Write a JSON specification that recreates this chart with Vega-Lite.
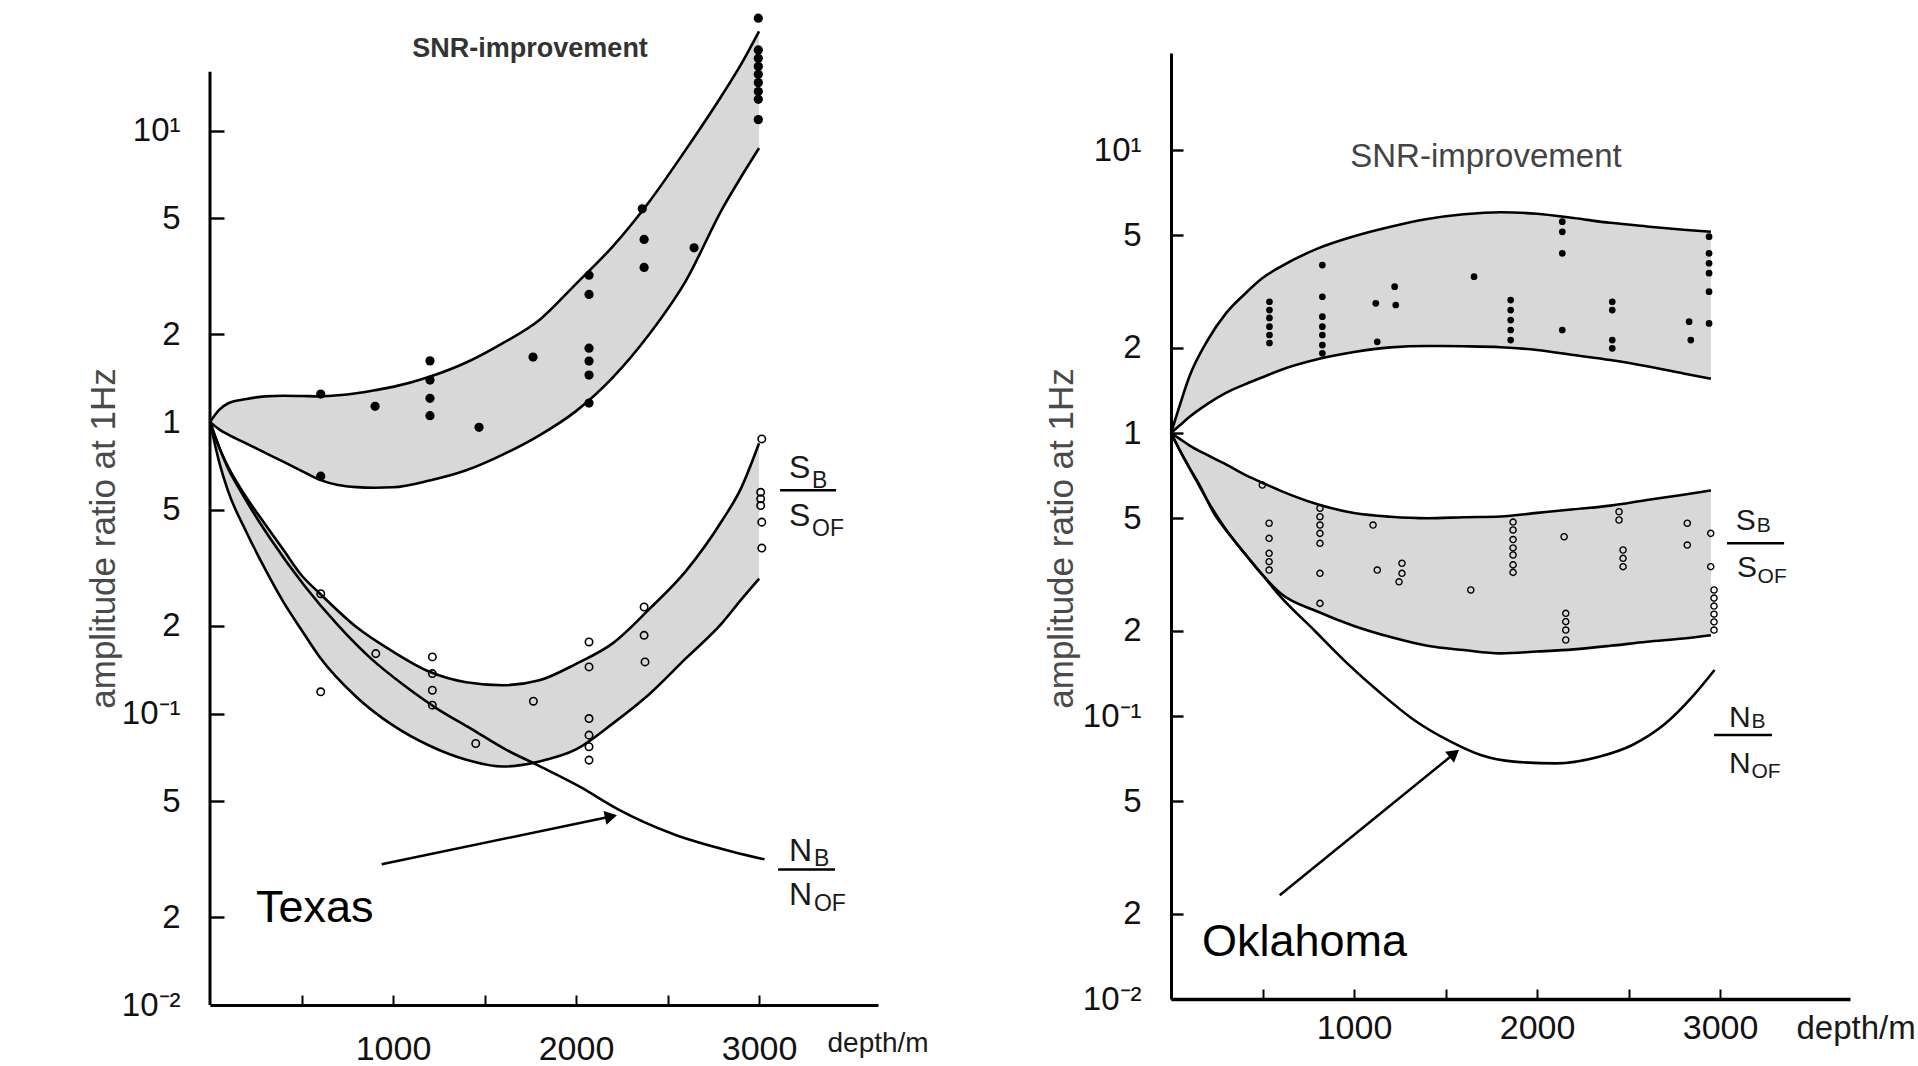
{
  "$schema": "https://vega.github.io/schema/vega-lite/v6.json",
  "background": "white",
  "padding": {"left": 86, "top": 13, "right": 0, "bottom": 0},
  "config": {"view": {"stroke": null}, "font": "Liberation Sans"},
  "bounds": "flush",
  "spacing": 293,
  "datasets": {
    "Lbands": [
      {"band": "snr", "d": 0, "lo": 1, "hi": 1},
      {"band": "snr", "d": 50, "lo": 0.944, "hi": 1.10},
      {"band": "snr", "d": 100, "lo": 0.905, "hi": 1.16},
      {"band": "snr", "d": 200, "lo": 0.843, "hi": 1.20},
      {"band": "snr", "d": 300, "lo": 0.785, "hi": 1.225},
      {"band": "snr", "d": 400, "lo": 0.731, "hi": 1.23},
      {"band": "snr", "d": 500, "lo": 0.68, "hi": 1.228},
      {"band": "snr", "d": 600, "lo": 0.633, "hi": 1.225},
      {"band": "snr", "d": 700, "lo": 0.608, "hi": 1.235},
      {"band": "snr", "d": 800, "lo": 0.598, "hi": 1.255},
      {"band": "snr", "d": 900, "lo": 0.595, "hi": 1.285},
      {"band": "snr", "d": 1000, "lo": 0.597, "hi": 1.32},
      {"band": "snr", "d": 1200, "lo": 0.63, "hi": 1.43},
      {"band": "snr", "d": 1400, "lo": 0.683, "hi": 1.60},
      {"band": "snr", "d": 1600, "lo": 0.773, "hi": 1.865},
      {"band": "snr", "d": 1800, "lo": 0.90, "hi": 2.24},
      {"band": "snr", "d": 2000, "lo": 1.09, "hi": 2.98},
      {"band": "snr", "d": 2200, "lo": 1.42, "hi": 4.0},
      {"band": "snr", "d": 2400, "lo": 2.0, "hi": 5.7},
      {"band": "snr", "d": 2600, "lo": 3.05, "hi": 8.6},
      {"band": "snr", "d": 2800, "lo": 5.4, "hi": 13.3},
      {"band": "snr", "d": 2900, "lo": 6.9, "hi": 16.8},
      {"band": "snr", "d": 3000, "lo": 8.7, "hi": 21.9},
      {"band": "s", "d": 0, "lo": 1, "hi": 1},
      {"band": "s", "d": 50, "lo": 0.73, "hi": 0.82},
      {"band": "s", "d": 100, "lo": 0.577, "hi": 0.70},
      {"band": "s", "d": 200, "lo": 0.418, "hi": 0.55},
      {"band": "s", "d": 300, "lo": 0.314, "hi": 0.447},
      {"band": "s", "d": 400, "lo": 0.242, "hi": 0.365},
      {"band": "s", "d": 500, "lo": 0.1935, "hi": 0.298},
      {"band": "s", "d": 600, "lo": 0.156, "hi": 0.258},
      {"band": "s", "d": 800, "lo": 0.114, "hi": 0.198},
      {"band": "s", "d": 1000, "lo": 0.091, "hi": 0.163},
      {"band": "s", "d": 1200, "lo": 0.0775, "hi": 0.139},
      {"band": "s", "d": 1400, "lo": 0.0694, "hi": 0.128},
      {"band": "s", "d": 1600, "lo": 0.0658, "hi": 0.125},
      {"band": "s", "d": 1800, "lo": 0.0685, "hi": 0.130},
      {"band": "s", "d": 2000, "lo": 0.0753, "hi": 0.148},
      {"band": "s", "d": 2200, "lo": 0.0923, "hi": 0.174},
      {"band": "s", "d": 2400, "lo": 0.1164, "hi": 0.228},
      {"band": "s", "d": 2600, "lo": 0.1545, "hi": 0.308},
      {"band": "s", "d": 2800, "lo": 0.205, "hi": 0.461},
      {"band": "s", "d": 2900, "lo": 0.245, "hi": 0.59},
      {"band": "s", "d": 3000, "lo": 0.29, "hi": 0.846}
    ],
    "Lnoise": [
      {"d": 0, "v": 1}, {"d": 50, "v": 0.82}, {"d": 100, "v": 0.69}, {"d": 150, "v": 0.605},
      {"d": 330, "v": 0.3975}, {"d": 515, "v": 0.275}, {"d": 700, "v": 0.2006}, {"d": 880, "v": 0.1543},
      {"d": 1060, "v": 0.125}, {"d": 1240, "v": 0.104}, {"d": 1425, "v": 0.0888}, {"d": 1605, "v": 0.0759},
      {"d": 1790, "v": 0.0665}, {"d": 2025, "v": 0.0559}, {"d": 2225, "v": 0.0471}, {"d": 2530, "v": 0.0386},
      {"d": 2860, "v": 0.0335}, {"d": 3030, "v": 0.0316}
    ],
    "Lfilled": [
      {"d": 605, "v": 1.247}, {"d": 902, "v": 1.132}, {"d": 1202, "v": 1.621}, {"d": 1202, "v": 1.393},
      {"d": 1202, "v": 1.206}, {"d": 1202, "v": 1.051}, {"d": 1470, "v": 0.959}, {"d": 605, "v": 0.652},
      {"d": 1765, "v": 1.67}, {"d": 2071, "v": 3.19}, {"d": 2071, "v": 2.74}, {"d": 2071, "v": 1.792},
      {"d": 2071, "v": 1.618}, {"d": 2071, "v": 1.449}, {"d": 2071, "v": 1.162}, {"d": 2362, "v": 5.39},
      {"d": 2372, "v": 4.23}, {"d": 2372, "v": 3.39}, {"d": 2645, "v": 3.96}, {"d": 2996, "v": 24.3},
      {"d": 2996, "v": 18.9}, {"d": 2996, "v": 17.7}, {"d": 2996, "v": 16.6}, {"d": 2996, "v": 15.6},
      {"d": 2996, "v": 14.6}, {"d": 2996, "v": 13.6}, {"d": 2996, "v": 12.8}, {"d": 2996, "v": 10.9}
    ],
    "Lopen": [
      {"d": 605, "v": 0.2576}, {"d": 906, "v": 0.1605}, {"d": 605, "v": 0.1187}, {"d": 1215, "v": 0.1564},
      {"d": 1215, "v": 0.1371}, {"d": 1215, "v": 0.1202}, {"d": 1215, "v": 0.1068}, {"d": 1452, "v": 0.0789},
      {"d": 1767, "v": 0.1102}, {"d": 3015, "v": 0.875}, {"d": 3009, "v": 0.574}, {"d": 3009, "v": 0.545},
      {"d": 3009, "v": 0.517}, {"d": 3015, "v": 0.4535}, {"d": 3015, "v": 0.3694}, {"d": 2372, "v": 0.232},
      {"d": 2372, "v": 0.1854}, {"d": 2377, "v": 0.1503}, {"d": 2071, "v": 0.176}, {"d": 2071, "v": 0.1445},
      {"d": 2071, "v": 0.0961}, {"d": 2071, "v": 0.0843}, {"d": 2071, "v": 0.0769}, {"d": 2071, "v": 0.0692}
    ],
    "Laxis": [{"d": 0, "v": 0.01, "v2": 15.9}],
    "Lbig": [
      {"d": 3164, "v": 0.6435, "t": "S"}, {"d": 3164, "v": 0.4391, "t": "S"},
      {"d": 3164, "v": 0.03131, "t": "N"}, {"d": 3164, "v": 0.02195, "t": "N"}
    ],
    "Lsub": [
      {"d": 3290, "v": 0.5946, "t": "B"}, {"d": 3290, "v": 0.4057, "t": "OF"},
      {"d": 3300, "v": 0.0301, "t": "B"}, {"d": 3300, "v": 0.0210, "t": "OF"}
    ],
    "Lbars": [
      {"d": 3115, "d2": 3421, "v": 0.5834}, {"d": 3104, "d2": 3415, "v": 0.02915}
    ],
    "Larrow": [{"d": 938, "v": 0.0304, "d2": 2191, "v2": 0.0443}],
    "Lhead": [{"d": 2191, "v": 0.0443}],
    "Llabel": [{"d": 251, "v": 0.01934, "t": "Texas"}],
    "Ltitle": [{"d": 1749, "v": 19.1, "t": "SNR-improvement"}],
    "Rbands": [
      {"band": "snr", "d": 0, "lo": 1, "hi": 1},
      {"band": "snr", "d": 50, "lo": 1.067, "hi": 1.266},
      {"band": "snr", "d": 100, "lo": 1.139, "hi": 1.58},
      {"band": "snr", "d": 200, "lo": 1.268, "hi": 2.127},
      {"band": "snr", "d": 300, "lo": 1.386, "hi": 2.647},
      {"band": "snr", "d": 400, "lo": 1.483, "hi": 3.087},
      {"band": "snr", "d": 500, "lo": 1.574, "hi": 3.53},
      {"band": "snr", "d": 600, "lo": 1.671, "hi": 3.873},
      {"band": "snr", "d": 800, "lo": 1.822, "hi": 4.483},
      {"band": "snr", "d": 1000, "lo": 1.933, "hi": 4.957},
      {"band": "snr", "d": 1200, "lo": 2.007, "hi": 5.357},
      {"band": "snr", "d": 1400, "lo": 2.03, "hi": 5.706},
      {"band": "snr", "d": 1600, "lo": 2.025, "hi": 5.93},
      {"band": "snr", "d": 1800, "lo": 2.01, "hi": 6.03},
      {"band": "snr", "d": 2000, "lo": 1.965, "hi": 5.956},
      {"band": "snr", "d": 2200, "lo": 1.886, "hi": 5.75},
      {"band": "snr", "d": 2400, "lo": 1.811, "hi": 5.53},
      {"band": "snr", "d": 2600, "lo": 1.722, "hi": 5.37},
      {"band": "snr", "d": 2800, "lo": 1.624, "hi": 5.23},
      {"band": "snr", "d": 2950, "lo": 1.556, "hi": 5.14},
      {"band": "s", "d": 0, "lo": 1, "hi": 1},
      {"band": "s", "d": 50, "lo": 0.865, "hi": 0.952},
      {"band": "s", "d": 100, "lo": 0.755, "hi": 0.905},
      {"band": "s", "d": 200, "lo": 0.576, "hi": 0.835},
      {"band": "s", "d": 300, "lo": 0.456, "hi": 0.775},
      {"band": "s", "d": 400, "lo": 0.377, "hi": 0.714},
      {"band": "s", "d": 500, "lo": 0.315, "hi": 0.667},
      {"band": "s", "d": 600, "lo": 0.271, "hi": 0.6245},
      {"band": "s", "d": 800, "lo": 0.234, "hi": 0.56},
      {"band": "s", "d": 1000, "lo": 0.208, "hi": 0.5216},
      {"band": "s", "d": 1200, "lo": 0.19, "hi": 0.506},
      {"band": "s", "d": 1400, "lo": 0.177, "hi": 0.50},
      {"band": "s", "d": 1600, "lo": 0.171, "hi": 0.504},
      {"band": "s", "d": 1800, "lo": 0.1665, "hi": 0.507},
      {"band": "s", "d": 2000, "lo": 0.169, "hi": 0.522},
      {"band": "s", "d": 2200, "lo": 0.172, "hi": 0.5375},
      {"band": "s", "d": 2400, "lo": 0.177, "hi": 0.554},
      {"band": "s", "d": 2600, "lo": 0.183, "hi": 0.58},
      {"band": "s", "d": 2800, "lo": 0.188, "hi": 0.6055},
      {"band": "s", "d": 2950, "lo": 0.193, "hi": 0.627}
    ],
    "Rnoise": [
      {"d": 0, "v": 1}, {"d": 44, "v": 0.878}, {"d": 98, "v": 0.758}, {"d": 153, "v": 0.66},
      {"d": 235, "v": 0.52}, {"d": 326, "v": 0.4325}, {"d": 417, "v": 0.3655}, {"d": 508, "v": 0.3106},
      {"d": 590, "v": 0.268}, {"d": 781, "v": 0.2013}, {"d": 963, "v": 0.1535}, {"d": 1146, "v": 0.1203},
      {"d": 1328, "v": 0.0968}, {"d": 1510, "v": 0.0823}, {"d": 1692, "v": 0.0728}, {"d": 1874, "v": 0.069},
      {"d": 2102, "v": 0.068}, {"d": 2339, "v": 0.0718}, {"d": 2521, "v": 0.079}, {"d": 2703, "v": 0.0942},
      {"d": 2849, "v": 0.117}, {"d": 2970, "v": 0.1454}
    ],
    "Rfilled": [
      {"d": 538, "v": 2.91}, {"d": 538, "v": 2.72}, {"d": 538, "v": 2.55}, {"d": 538, "v": 2.375},
      {"d": 538, "v": 2.22}, {"d": 538, "v": 2.08},
      {"d": 827, "v": 3.92}, {"d": 827, "v": 3.03}, {"d": 827, "v": 2.576}, {"d": 827, "v": 2.375},
      {"d": 827, "v": 2.22}, {"d": 827, "v": 2.046}, {"d": 827, "v": 1.912},
      {"d": 1119, "v": 2.873}, {"d": 1222, "v": 3.29}, {"d": 1228, "v": 2.834}, {"d": 1127, "v": 2.10},
      {"d": 1656, "v": 3.567},
      {"d": 1856, "v": 2.95}, {"d": 1856, "v": 2.72}, {"d": 1856, "v": 2.507}, {"d": 1856, "v": 2.312},
      {"d": 1856, "v": 2.131},
      {"d": 2138, "v": 5.58}, {"d": 2138, "v": 5.14}, {"d": 2138, "v": 4.315}, {"d": 2138, "v": 2.312},
      {"d": 2411, "v": 2.91}, {"d": 2411, "v": 2.72}, {"d": 2411, "v": 2.131}, {"d": 2411, "v": 1.992},
      {"d": 2940, "v": 4.94}, {"d": 2940, "v": 4.315}, {"d": 2940, "v": 3.98}, {"d": 2940, "v": 3.67},
      {"d": 2940, "v": 3.158}, {"d": 2940, "v": 2.44},
      {"d": 2831, "v": 2.474}, {"d": 2840, "v": 2.131}
    ],
    "Ropen": [
      {"d": 499, "v": 0.655},
      {"d": 536, "v": 0.48}, {"d": 536, "v": 0.4245}, {"d": 536, "v": 0.3757}, {"d": 536, "v": 0.351}, {"d": 536, "v": 0.328},
      {"d": 814, "v": 0.542}, {"d": 814, "v": 0.506}, {"d": 814, "v": 0.473}, {"d": 814, "v": 0.442},
      {"d": 814, "v": 0.4076}, {"d": 814, "v": 0.3193}, {"d": 814, "v": 0.25},
      {"d": 1104, "v": 0.473}, {"d": 1127, "v": 0.328},
      {"d": 1262, "v": 0.3465}, {"d": 1262, "v": 0.3193}, {"d": 1246, "v": 0.298},
      {"d": 1638, "v": 0.2788},
      {"d": 1869, "v": 0.4845}, {"d": 1869, "v": 0.4543}, {"d": 1869, "v": 0.4203}, {"d": 1869, "v": 0.3926},
      {"d": 1869, "v": 0.3707}, {"d": 1869, "v": 0.342}, {"d": 1869, "v": 0.3217},
      {"d": 2148, "v": 0.43},
      {"d": 2157, "v": 0.2306}, {"d": 2157, "v": 0.2155}, {"d": 2157, "v": 0.2013}, {"d": 2157, "v": 0.1856},
      {"d": 2448, "v": 0.527}, {"d": 2448, "v": 0.4927},
      {"d": 2470, "v": 0.386}, {"d": 2470, "v": 0.3607}, {"d": 2470, "v": 0.337},
      {"d": 2821, "v": 0.48}, {"d": 2821, "v": 0.402},
      {"d": 2949, "v": 0.442}, {"d": 2949, "v": 0.337},
      {"d": 2967, "v": 0.2788}, {"d": 2967, "v": 0.261}, {"d": 2967, "v": 0.2446}, {"d": 2967, "v": 0.229},
      {"d": 2967, "v": 0.215}, {"d": 2967, "v": 0.2013}
    ],
    "Rbig": [
      {"d": 3086, "v": 0.4543, "t": "S"}, {"d": 3093, "v": 0.3106, "t": "S"},
      {"d": 3049, "v": 0.0917, "t": "N"}, {"d": 3049, "v": 0.0629, "t": "N"}
    ],
    "Rsub": [
      {"d": 3200, "v": 0.4479, "t": "B"}, {"d": 3205, "v": 0.2943, "t": "OF"},
      {"d": 3172, "v": 0.0907, "t": "B"}, {"d": 3172, "v": 0.0602, "t": "OF"}
    ],
    "Rbars": [
      {"d": 3038, "d2": 3350, "v": 0.4076}, {"d": 2967, "d2": 3284, "v": 0.0857}
    ],
    "Rarrow": [{"d": 594, "v": 0.02325, "d2": 1548, "v2": 0.0737}],
    "Rhead": [{"d": 1548, "v": 0.0737}],
    "Rlabel": [{"d": 169, "v": 0.01419, "t": "Oklahoma"}],
    "Rtitle": [{"d": 1721, "v": 9.45, "t": "SNR-improvement"}]
  },
  "hconcat": [
    {
      "width": 668,
      "height": 952,
      "layer": [
        {
          "data": {"name": "Lbands"},
          "mark": {"type": "area", "fill": "#d8d8d8", "stroke": null, "opacity": 1, "interpolate": "monotone"},
          "encoding": {
            "x": {
              "field": "d", "type": "quantitative",
              "scale": {"domain": [0, 3650], "nice": false, "zero": false},
              "axis": {
                "title": "depth/m", "titleX": 617, "titleY": 46, "titleAlign": "left", "titleBaseline": "alphabetic",
                "titleFontSize": 28, "titleFontWeight": "normal", "titleColor": "#1a1a1a",
                "values": [500, 1000, 1500, 2000, 2500, 3000],
                "labelExpr": "datum.value % 1000 == 0 ? format(datum.value, 'd') : ''",
                "tickSize": -10, "tickWidth": 2, "tickColor": "black",
                "domainColor": "black", "domainWidth": 3.2,
                "labelFontSize": 34, "labelColor": "#111111", "labelPadding": 37,
                "labelFlush": false, "labelOverlap": false, "grid": false
              }
            },
            "y": {
              "field": "hi", "type": "quantitative",
              "scale": {"type": "log", "domain": [0.01, 18.45], "nice": false},
              "axis": {
                "title": "amplitude ratio at 1Hz", "titleX": -107, "titleY": 485, "titleAngle": 270,
                "titleAlign": "center", "titleBaseline": "middle",
                "titleFontSize": 35, "titleFontWeight": "normal", "titleColor": "#4a4a4a",
                "values": [0.01, 0.02, 0.05, 0.1, 0.2, 0.5, 1, 2, 5, 10],
                "labelExpr": "datum.value == 10 ? '10¹' : datum.value == 0.1 ? '10⁻¹' : datum.value == 0.01 ? '10⁻²' : format(datum.value / pow(10, floor(log(datum.value) / LN10 + 1e-9)), '.0f')",
                "domain": false, "tickSize": -14, "tickWidth": 2.4, "tickColor": "black",
                "labelFontSize": 33, "labelColor": "#111111", "labelPadding": 44, "labelBaseline": "middle",
                "labelFlush": false, "labelOverlap": false, "grid": false
              }
            },
            "y2": {"field": "lo"},
            "detail": {"field": "band"}
          }
        },
        {
          "data": {"name": "Lbands"},
          "mark": {"type": "line", "color": "black", "strokeWidth": 2.6, "interpolate": "monotone"},
          "encoding": {
            "x": {"field": "d", "type": "quantitative"},
            "y": {"field": "hi", "type": "quantitative"},
            "detail": {"field": "band"}
          }
        },
        {
          "data": {"name": "Lbands"},
          "mark": {"type": "line", "color": "black", "strokeWidth": 2.6, "interpolate": "monotone"},
          "encoding": {
            "x": {"field": "d", "type": "quantitative"},
            "y": {"field": "lo", "type": "quantitative"},
            "detail": {"field": "band"}
          }
        },
        {
          "data": {"name": "Lnoise"},
          "mark": {"type": "line", "color": "black", "strokeWidth": 2.6, "interpolate": "monotone"},
          "encoding": {
            "x": {"field": "d", "type": "quantitative"},
            "y": {"field": "v", "type": "quantitative"}
          }
        },
        {
          "data": {"name": "Laxis"},
          "mark": {"type": "rule", "color": "black", "strokeWidth": 3},
          "encoding": {
            "x": {"field": "d", "type": "quantitative"},
            "y": {"field": "v", "type": "quantitative"},
            "y2": {"field": "v2"}
          }
        },
        {
          "data": {"name": "Lfilled"},
          "mark": {"type": "circle", "color": "black", "opacity": 1, "size": 85},
          "encoding": {
            "x": {"field": "d", "type": "quantitative"},
            "y": {"field": "v", "type": "quantitative"}
          }
        },
        {
          "data": {"name": "Lopen"},
          "mark": {"type": "point", "shape": "circle", "filled": false, "stroke": "black", "strokeWidth": 1.6, "opacity": 1, "size": 55},
          "encoding": {
            "x": {"field": "d", "type": "quantitative"},
            "y": {"field": "v", "type": "quantitative"}
          }
        },
        {
          "data": {"name": "Lbig"},
          "mark": {"type": "text", "fontSize": 32, "align": "left", "baseline": "alphabetic", "color": "#1a1a1a"},
          "encoding": {
            "x": {"field": "d", "type": "quantitative"},
            "y": {"field": "v", "type": "quantitative"},
            "text": {"field": "t"}
          }
        },
        {
          "data": {"name": "Lsub"},
          "mark": {"type": "text", "fontSize": 23, "align": "left", "baseline": "alphabetic", "color": "#1a1a1a"},
          "encoding": {
            "x": {"field": "d", "type": "quantitative"},
            "y": {"field": "v", "type": "quantitative"},
            "text": {"field": "t"}
          }
        },
        {
          "data": {"name": "Lbars"},
          "mark": {"type": "rule", "color": "black", "strokeWidth": 2.5},
          "encoding": {
            "x": {"field": "d", "type": "quantitative"},
            "x2": {"field": "d2"},
            "y": {"field": "v", "type": "quantitative"}
          }
        },
        {
          "data": {"name": "Larrow"},
          "mark": {"type": "rule", "color": "black", "strokeWidth": 2.5},
          "encoding": {
            "x": {"field": "d", "type": "quantitative"},
            "x2": {"field": "d2"},
            "y": {"field": "v", "type": "quantitative"},
            "y2": {"field": "v2"}
          }
        },
        {
          "data": {"name": "Lhead"},
          "mark": {"type": "point", "shape": "triangle-right", "filled": true, "color": "black", "opacity": 1, "size": 200, "angle": -12},
          "encoding": {
            "x": {"field": "d", "type": "quantitative"},
            "y": {"field": "v", "type": "quantitative"}
          }
        },
        {
          "data": {"name": "Llabel"},
          "mark": {"type": "text", "fontSize": 45, "align": "left", "baseline": "alphabetic", "color": "black"},
          "encoding": {
            "x": {"field": "d", "type": "quantitative"},
            "y": {"field": "v", "type": "quantitative"},
            "text": {"field": "t"}
          }
        },
        {
          "data": {"name": "Ltitle"},
          "mark": {"type": "text", "fontSize": 27, "fontWeight": "bold", "align": "center", "baseline": "middle", "color": "#333333"},
          "encoding": {
            "x": {"field": "d", "type": "quantitative"},
            "y": {"field": "v", "type": "quantitative"},
            "text": {"field": "t"}
          }
        }
      ]
    },
    {
      "width": 679,
      "height": 946,
      "layer": [
        {
          "data": {"name": "Rbands"},
          "mark": {"type": "area", "fill": "#d8d8d8", "stroke": null, "opacity": 1, "interpolate": "monotone"},
          "encoding": {
            "x": {
              "field": "d", "type": "quantitative",
              "scale": {"domain": [0, 3710], "nice": false, "zero": false},
              "axis": {
                "title": "depth/m", "titleX": 625, "titleY": 39, "titleAlign": "left", "titleBaseline": "alphabetic",
                "titleFontSize": 33, "titleFontWeight": "normal", "titleColor": "#1a1a1a",
                "values": [500, 1000, 1500, 2000, 2500, 3000],
                "labelExpr": "datum.value % 1000 == 0 ? format(datum.value, 'd') : ''",
                "tickSize": -10, "tickWidth": 2, "tickColor": "black",
                "domainColor": "black", "domainWidth": 3.4,
                "labelFontSize": 34, "labelColor": "#111111", "labelPadding": 22,
                "labelFlush": false, "labelOverlap": false, "grid": false
              }
            },
            "y": {
              "field": "hi", "type": "quantitative",
              "scale": {"type": "log", "domain": [0.01, 22.02], "nice": false},
              "axis": {
                "title": "amplitude ratio at 1Hz", "titleX": -110, "titleY": 485, "titleAngle": 270,
                "titleAlign": "center", "titleBaseline": "middle",
                "titleFontSize": 35, "titleFontWeight": "normal", "titleColor": "#4a4a4a",
                "values": [0.01, 0.02, 0.05, 0.1, 0.2, 0.5, 1, 2, 5, 10],
                "labelExpr": "datum.value == 10 ? '10¹' : datum.value == 0.1 ? '10⁻¹' : datum.value == 0.01 ? '10⁻²' : format(datum.value / pow(10, floor(log(datum.value) / LN10 + 1e-9)), '.0f')",
                "domain": true, "domainColor": "black", "domainWidth": 3,
                "tickSize": -12, "tickWidth": 2.4, "tickColor": "black",
                "labelFontSize": 33, "labelColor": "#111111", "labelPadding": 42, "labelBaseline": "middle",
                "labelFlush": false, "labelOverlap": false, "grid": false
              }
            },
            "y2": {"field": "lo"},
            "detail": {"field": "band"}
          }
        },
        {
          "data": {"name": "Rbands"},
          "mark": {"type": "line", "color": "black", "strokeWidth": 2.6, "interpolate": "monotone"},
          "encoding": {
            "x": {"field": "d", "type": "quantitative"},
            "y": {"field": "hi", "type": "quantitative"},
            "detail": {"field": "band"}
          }
        },
        {
          "data": {"name": "Rbands"},
          "mark": {"type": "line", "color": "black", "strokeWidth": 2.6, "interpolate": "monotone"},
          "encoding": {
            "x": {"field": "d", "type": "quantitative"},
            "y": {"field": "lo", "type": "quantitative"},
            "detail": {"field": "band"}
          }
        },
        {
          "data": {"name": "Rnoise"},
          "mark": {"type": "line", "color": "black", "strokeWidth": 2.6, "interpolate": "monotone"},
          "encoding": {
            "x": {"field": "d", "type": "quantitative"},
            "y": {"field": "v", "type": "quantitative"}
          }
        },
        {
          "data": {"name": "Rfilled"},
          "mark": {"type": "circle", "color": "black", "opacity": 1, "size": 45},
          "encoding": {
            "x": {"field": "d", "type": "quantitative"},
            "y": {"field": "v", "type": "quantitative"}
          }
        },
        {
          "data": {"name": "Ropen"},
          "mark": {"type": "point", "shape": "circle", "filled": false, "stroke": "black", "strokeWidth": 1.4, "opacity": 1, "size": 38},
          "encoding": {
            "x": {"field": "d", "type": "quantitative"},
            "y": {"field": "v", "type": "quantitative"}
          }
        },
        {
          "data": {"name": "Rbig"},
          "mark": {"type": "text", "fontSize": 30, "align": "left", "baseline": "alphabetic", "color": "#1a1a1a"},
          "encoding": {
            "x": {"field": "d", "type": "quantitative"},
            "y": {"field": "v", "type": "quantitative"},
            "text": {"field": "t"}
          }
        },
        {
          "data": {"name": "Rsub"},
          "mark": {"type": "text", "fontSize": 21, "align": "left", "baseline": "alphabetic", "color": "#1a1a1a"},
          "encoding": {
            "x": {"field": "d", "type": "quantitative"},
            "y": {"field": "v", "type": "quantitative"},
            "text": {"field": "t"}
          }
        },
        {
          "data": {"name": "Rbars"},
          "mark": {"type": "rule", "color": "black", "strokeWidth": 2.5},
          "encoding": {
            "x": {"field": "d", "type": "quantitative"},
            "x2": {"field": "d2"},
            "y": {"field": "v", "type": "quantitative"}
          }
        },
        {
          "data": {"name": "Rarrow"},
          "mark": {"type": "rule", "color": "black", "strokeWidth": 2.5},
          "encoding": {
            "x": {"field": "d", "type": "quantitative"},
            "x2": {"field": "d2"},
            "y": {"field": "v", "type": "quantitative"},
            "y2": {"field": "v2"}
          }
        },
        {
          "data": {"name": "Rhead"},
          "mark": {"type": "point", "shape": "triangle-right", "filled": true, "color": "black", "opacity": 1, "size": 200, "angle": -39},
          "encoding": {
            "x": {"field": "d", "type": "quantitative"},
            "y": {"field": "v", "type": "quantitative"}
          }
        },
        {
          "data": {"name": "Rlabel"},
          "mark": {"type": "text", "fontSize": 45, "align": "left", "baseline": "alphabetic", "color": "black"},
          "encoding": {
            "x": {"field": "d", "type": "quantitative"},
            "y": {"field": "v", "type": "quantitative"},
            "text": {"field": "t"}
          }
        },
        {
          "data": {"name": "Rtitle"},
          "mark": {"type": "text", "fontSize": 33, "align": "center", "baseline": "middle", "color": "#444444"},
          "encoding": {
            "x": {"field": "d", "type": "quantitative"},
            "y": {"field": "v", "type": "quantitative"},
            "text": {"field": "t"}
          }
        }
      ]
    }
  ]
}
